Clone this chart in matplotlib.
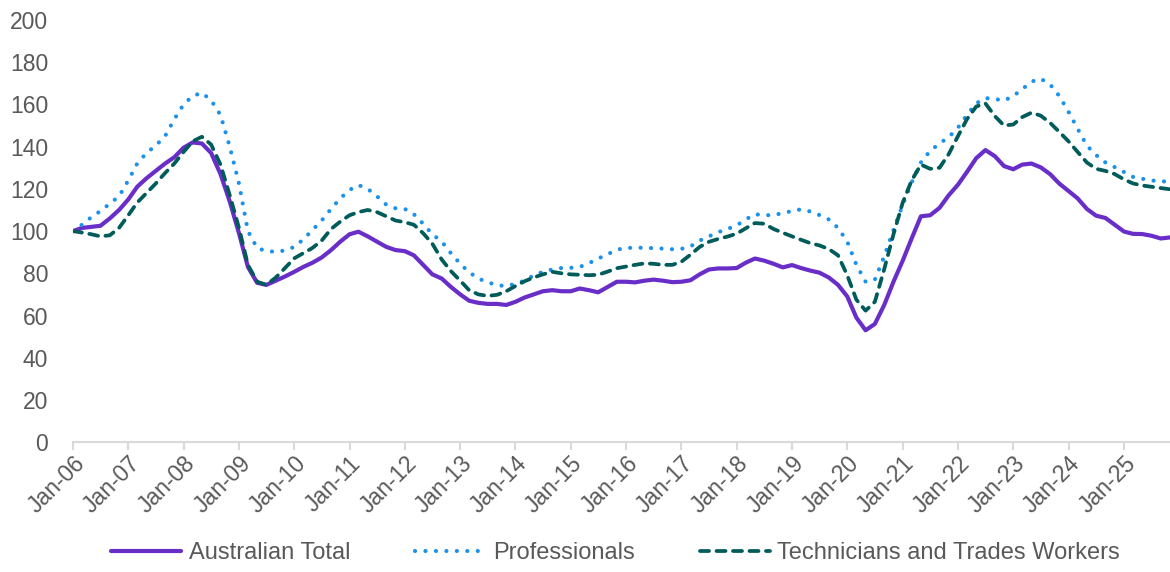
import matplotlib
matplotlib.use("Agg")
import matplotlib.pyplot as plt
import matplotlib.dates as mdates
import pandas as pd

plt.rcParams['font.family'] = ['Liberation Sans', 'DejaVu Sans']

# bi-monthly readings, Jan-06 .. Nov-25
dates = pd.date_range("2006-01-01", periods=120, freq="2MS")

australian_total = [
    100, 101.5, 102, 102.5, 106, 110, 115, 121, 125, 128.5,
    132, 135, 139.5, 142, 141.5, 137, 127, 114, 99, 83,
    75.5, 74.5, 76.5, 78.5, 80.7, 83, 85, 87.5, 91, 95,
    98.5, 99.7, 97.5, 95, 92.5, 91, 90.5, 88.5, 84, 79.5,
    77.5, 73.5, 70, 67, 66, 65.5, 65.5, 65, 66.5, 68.5,
    70, 71.5, 72, 71.5, 71.5, 72.8, 72, 71, 73.5, 76,
    76, 75.7, 76.5, 77, 76.5, 75.8, 76, 76.7, 79.5, 81.8,
    82.3, 82.3, 82.5, 85, 87, 86, 84.5, 82.8, 83.9, 82.5,
    81.3, 80.3, 78, 74.5, 69, 59, 53, 56, 65, 76,
    86, 96.5, 107, 107.5, 111, 117, 122, 128, 134.5, 138.4,
    135.5, 130.8, 129.3, 131.5, 132, 130.2, 127, 122.5, 119, 115.5,
    110.5, 107.3, 106.2, 103, 99.8, 98.7, 98.6, 97.8, 96.5, 97,
]

professionals = [
    100, 103, 106.5, 109.5, 113, 116.5, 124, 132, 137, 140.5,
    145, 153, 160, 164, 165.5, 162, 155, 140, 122.5, 100,
    92, 90.5, 90.2, 90.8, 92.5, 96, 100.5, 105, 110.5, 115.5,
    119.5, 121.8, 120, 116.5, 112.5, 110.8, 110.5, 108, 103.5, 98.5,
    95, 89.5, 84.5, 80.5, 77.5, 75.8, 74.3, 74, 75, 76.5,
    79, 80.7, 81.8, 82.5, 82.6, 83, 84.8, 87, 89, 91.2,
    92, 92.1, 92.1, 91.9, 91.7, 91.4, 91.6, 92.7, 95.5, 97.5,
    99.5, 101, 102.7, 105.5, 108, 107.5, 107.6, 108.5, 109.5, 110.3,
    109.3, 107.6, 105.5, 101.5, 95, 84, 76, 77, 88, 100.5,
    112.5, 123, 132.5, 138, 141.5, 144.5, 149, 155, 160.5, 163,
    162.6, 161.8, 164, 167.2, 170.8, 172.2, 169.5, 164, 156.5, 148.5,
    140.5, 136, 132.5, 130.3, 128, 125.7, 124.8, 124, 123.6, 123.4,
]

technicians_trades = [
    100, 99.3, 98.5, 97.5, 98, 101.5, 107.5, 113.5, 118, 122.5,
    127.5, 132, 137.5, 142.5, 144.7, 141, 131.5, 117, 101.5, 84,
    76, 74.5, 78, 82.5, 87.1, 89.5, 92, 95.5, 101, 104.5,
    107.5, 109, 110, 109, 107, 105, 104.2, 103, 99, 94,
    86.5, 81, 76.5, 72, 70, 69.3, 69.8, 71.5, 74, 76.2,
    78, 79.5, 80.7, 80, 79.5, 79.3, 79.1, 79.3, 80.8, 82.4,
    83.2, 84, 84.7, 84.5, 84, 84, 85.5, 88.8, 92.5, 94.9,
    96.3, 97.4, 98.8, 101.3, 103.8, 103.5, 101, 99.2, 97.5, 95.9,
    94.3, 93.2, 91.5, 88.5, 79, 67.5, 62.3, 66.5, 82, 98.5,
    113.5, 124, 131.5, 129.5, 130, 136.5, 145, 153, 159, 160.5,
    154.5, 150, 150.5, 154, 156.1, 154.7, 151.3, 147, 142.5, 137.5,
    132.5, 129.5, 128.5, 127, 124.5, 122.6, 121.6, 121, 120.4, 119.8,
]

y_ticks = list(range(0, 201, 20))
text_grey = "#595959"
axis_grey = "#d9d9d9"
font_size = 16.5

fig = plt.figure(figsize=(11.7, 5.72), dpi=100)
ax = fig.add_axes([0.0624, 0.227, 0.9376, 0.738])

ax.plot(dates, australian_total, color="#6a2ec8", lw=3.0,
        solid_joinstyle="round", solid_capstyle="round", label="Australian Total")
ax.plot(dates, professionals, color="#1a91eb", lw=3.0,
        linestyle=(0, (0.01, 2.5)), dash_capstyle="round", label="Professionals")
ax.plot(dates, technicians_trades, color="#005b5b", lw=2.7,
        linestyle=(0, (2.4, 2.0)), dash_capstyle="round",
        label="Technicians and Trades Workers")

ax.set_ylim(0, 200)
ax.set_yticks(y_ticks)
ax.set_xlim(dates[0], dates[-1])

ax.xaxis.set_major_locator(mdates.YearLocator(1, month=1, day=1))
ax.xaxis.set_major_formatter(mdates.DateFormatter("%b-%y"))

for side in ["left", "right", "top"]:
    ax.spines[side].set_visible(False)
ax.spines["bottom"].set_color(axis_grey)
ax.spines["bottom"].set_linewidth(1.5)

ax.tick_params(axis="y", length=0, labelsize=font_size, labelcolor=text_grey, pad=18)
ax.tick_params(axis="x", length=6, width=1.5, color=axis_grey,
               labelsize=font_size, labelcolor=text_grey, pad=1)
plt.setp(ax.get_xticklabels(), rotation=45, ha="right", rotation_mode="anchor")

fig.legend(loc="center", bbox_to_anchor=(0.526, 0.033), ncol=3, frameon=False,
           fontsize=17, labelcolor=text_grey, handlelength=3.0,
           columnspacing=2.75, handletextpad=0.3)

fig.savefig("out.png", dpi=100)
